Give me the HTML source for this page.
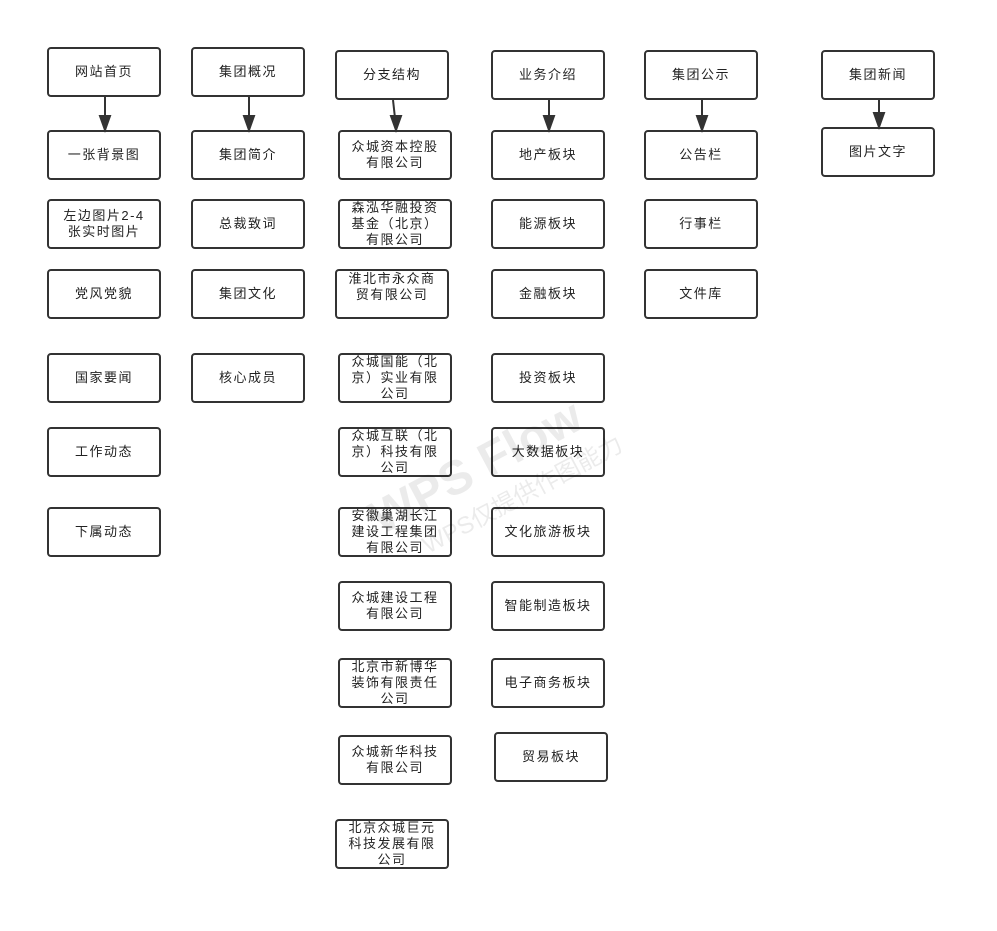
<!DOCTYPE html>
<html><head><meta charset="utf-8"><style>
body{margin:0;width:997px;height:931px;background:#fff;position:relative;overflow:hidden;font-family:"Liberation Sans","Noto Sans CJK SC",sans-serif}
.b{position:absolute;width:110px;height:46px;border:2px solid #333;border-radius:4px;display:flex;align-items:center;justify-content:center;text-align:center;font-size:13px;line-height:16px;letter-spacing:1.5px;color:#222;background:#fff}
svg{position:absolute;left:0;top:0}
.wm{position:absolute;left:360px;top:440px;transform:rotate(-28deg);color:rgba(0,0,0,0.08);font-size:48px;font-weight:bold;white-space:nowrap}
.wm2{position:absolute;left:410px;top:475px;transform:rotate(-28deg);color:rgba(0,0,0,0.08);font-size:24px;white-space:nowrap}
</style></head><body>
<div class="b" style="left:47px;top:47px">网站首页</div>
<div class="b" style="left:47px;top:130px">一张背景图</div>
<div class="b" style="left:47px;top:199px">左边图片2-4<br>张实时图片</div>
<div class="b" style="left:47px;top:269px">党风党貌</div>
<div class="b" style="left:47px;top:353px">国家要闻</div>
<div class="b" style="left:47px;top:427px">工作动态</div>
<div class="b" style="left:47px;top:507px">下属动态</div>

<div class="b" style="left:191px;top:47px">集团概况</div>
<div class="b" style="left:191px;top:130px">集团简介</div>
<div class="b" style="left:191px;top:199px">总裁致词</div>
<div class="b" style="left:191px;top:269px">集团文化</div>
<div class="b" style="left:191px;top:353px">核心成员</div>

<div class="b" style="left:335px;top:50px">分支结构</div>
<div class="b" style="left:338px;top:130px">众城资本控股<br>有限公司</div>
<div class="b" style="left:338px;top:199px">森泓华融投资<br>基金（北京）<br>有限公司</div>
<div class="b" style="left:335px;top:269px;align-items:flex-start;padding-top:0">淮北市永众商<br>贸有限公司</div>
<div class="b" style="left:338px;top:353px">众城国能（北<br>京）实业有限<br>公司</div>
<div class="b" style="left:338px;top:427px">众城互联（北<br>京）科技有限<br>公司</div>
<div class="b" style="left:338px;top:507px">安徽巢湖长江<br>建设工程集团<br>有限公司</div>
<div class="b" style="left:338px;top:581px">众城建设工程<br>有限公司</div>
<div class="b" style="left:338px;top:658px">北京市新博华<br>装饰有限责任<br>公司</div>
<div class="b" style="left:338px;top:735px">众城新华科技<br>有限公司</div>
<div class="b" style="left:335px;top:819px">北京众城巨元<br>科技发展有限<br>公司</div>

<div class="b" style="left:491px;top:50px">业务介绍</div>
<div class="b" style="left:491px;top:130px">地产板块</div>
<div class="b" style="left:491px;top:199px">能源板块</div>
<div class="b" style="left:491px;top:269px">金融板块</div>
<div class="b" style="left:491px;top:353px">投资板块</div>
<div class="b" style="left:491px;top:427px">大数据板块</div>
<div class="b" style="left:491px;top:507px">文化旅游板块</div>
<div class="b" style="left:491px;top:581px">智能制造板块</div>
<div class="b" style="left:491px;top:658px">电子商务板块</div>
<div class="b" style="left:494px;top:732px">贸易板块</div>

<div class="b" style="left:644px;top:50px">集团公示</div>
<div class="b" style="left:644px;top:130px">公告栏</div>
<div class="b" style="left:644px;top:199px">行事栏</div>
<div class="b" style="left:644px;top:269px">文件库</div>

<div class="b" style="left:821px;top:50px">集团新闻</div>
<div class="b" style="left:821px;top:127px">图片文字</div>

<svg width="997" height="931">
<g stroke="#333" stroke-width="2" fill="#333">
<line x1="105" y1="97" x2="105" y2="118"/><polygon points="100,116 110,116 105,130"/>
<line x1="249" y1="97" x2="249" y2="118"/><polygon points="244,116 254,116 249,130"/>
<line x1="393" y1="100" x2="395" y2="118"/><polygon points="391,116 401,116 396,130"/>
<line x1="549" y1="100" x2="549" y2="118"/><polygon points="544,116 554,116 549,130"/>
<line x1="702" y1="100" x2="702" y2="118"/><polygon points="697,116 707,116 702,130"/>
<line x1="879" y1="100" x2="879" y2="115"/><polygon points="874,113 884,113 879,127"/>
</g></svg>
<div class="wm">WPS Flow</div>
<div class="wm2">WPS仅提供作图能力</div>
</body></html>
